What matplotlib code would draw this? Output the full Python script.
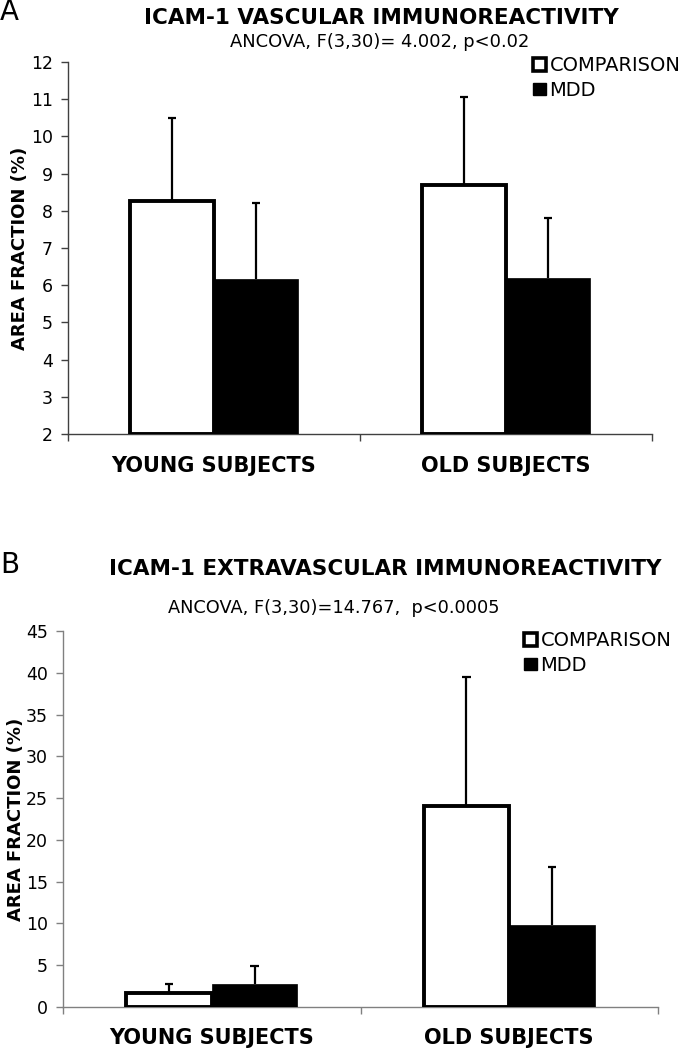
import matplotlib.pyplot as plt
from matplotlib.patches import Patch

plt.rcParams["font.family"] = ["DejaVu Sans"]

W, H = 681, 1049

groups = ["YOUNG SUBJECTS", "OLD SUBJECTS"]
series = ["COMPARISON", "MDD"]

# panel A: vascular
vasc_comp = [8.25, 8.7]
vasc_comp_sd = [2.25, 2.35]
vasc_mdd = [6.17, 6.2]
vasc_mdd_sd = [2.03, 1.6]
vasc_ticks = [2, 3, 4, 5, 6, 7, 8, 9, 10, 11, 12]

# panel B: extravascular
extra_comp = [1.65, 24.0]
extra_comp_sd = [1.1, 15.5]
extra_mdd = [2.75, 9.8]
extra_mdd_sd = [2.2, 7.0]
extra_ticks = [0, 5, 10, 15, 20, 25, 30, 35, 40, 45]


def px_axes(fig, left, top, right, bottom):
    return fig.add_axes([left / W, 1 - bottom / H, (right - left) / W, (bottom - top) / H])


def upper_err(ax, xs, means, sds, cap=0.014):
    tops = [m + s for m, s in zip(means, sds)]
    ax.vlines(xs, means, tops, color="black", linewidth=1.6, zorder=2)
    ax.hlines(tops, [v - cap for v in xs], [v + cap for v in xs], color="black",
              linewidth=1.6, zorder=2)


def panel(ax, comp, comp_sd, mdd, mdd_sd, ticks, spine_color, cat_pad):
    x = [0.5, 1.5]
    bw = 0.288
    off = 0.144
    xc = [v - off for v in x]
    xm = [v + off for v in x]
    base = ticks[0]
    ax.bar(xc, [c - base for c in comp], bw, bottom=base, color="white",
           edgecolor="black", linewidth=2.8, zorder=3)
    ax.bar(xm, [m - base for m in mdd], bw, bottom=base, color="black",
           edgecolor="black", linewidth=0.5, zorder=3)
    upper_err(ax, xc, comp, comp_sd)
    upper_err(ax, xm, mdd, mdd_sd)

    ax.set_xlim(0, 2)
    ax.set_ylim(ticks[0], ticks[-1])
    ax.set_yticks(ticks)
    ax.set_yticklabels([str(t) for t in ticks], fontsize=12.5)
    ax.set_xticks([0, 1, 2])
    ax.set_xticklabels([])
    ax.set_xticks(x, minor=True)
    ax.set_xticklabels(groups, minor=True, fontsize=15, fontweight="bold")
    ax.tick_params(axis="x", which="minor", length=0, pad=cat_pad)
    ax.tick_params(axis="x", which="major", length=5, color=spine_color, width=1)
    ax.tick_params(axis="y", length=5, color=spine_color, width=1, pad=6)
    for s in ["top", "right"]:
        ax.spines[s].set_visible(False)
    for s in ["left", "bottom"]:
        ax.spines[s].set_color(spine_color)
        ax.spines[s].set_linewidth(1)
    ax.set_ylabel("AREA FRACTION (%)", fontsize=13, fontweight="bold")


def legend(fig, x, y):
    handles = [Patch(facecolor="white", edgecolor="black", linewidth=2.6, label=series[0]),
               Patch(facecolor="black", edgecolor="black", label=series[1])]
    fig.legend(handles=handles, loc="upper left", bbox_to_anchor=(x / W, 1 - y / H),
               frameon=False, fontsize=14, handlelength=0.65, handleheight=0.65,
               handletextpad=0.2, labelspacing=0.3, borderpad=0, borderaxespad=0)


fig = plt.figure(figsize=(W / 100, H / 100), dpi=100)

axA = px_axes(fig, 68, 62, 652, 434)
panel(axA, vasc_comp, vasc_comp_sd, vasc_mdd, vasc_mdd_sd, vasc_ticks, "#404040", 16)
axA.yaxis.set_label_coords((29 - 68) / 584, 0.5)
fig.text(0 / W, 1 - 12 / H, "A", fontsize=20, va="center", ha="left")
fig.text(381 / W, 1 - 18 / H, "ICAM-1 VASCULAR IMMUNOREACTIVITY", fontsize=15.5,
         fontweight="bold", ha="center", va="center")
fig.text(380 / W, 1 - 42 / H, "ANCOVA, F(3,30)= 4.002, p<0.02", fontsize=12.9,
         ha="center", va="center")
legend(fig, 533, 56)

axB = px_axes(fig, 63, 631, 658, 1007)
panel(axB, extra_comp, extra_comp_sd, extra_mdd, extra_mdd_sd, extra_ticks, "#808080", 15)
axB.yaxis.set_label_coords((25 - 63) / 595, 0.5)
fig.text(0 / W, 1 - 565 / H, "B", fontsize=20, va="center", ha="left")
fig.text(385 / W, 1 - 569 / H, "ICAM-1 EXTRAVASCULAR IMMUNOREACTIVITY", fontsize=15.5,
         fontweight="bold", ha="center", va="center")
fig.text(334 / W, 1 - 608 / H, "ANCOVA, F(3,30)=14.767,  p<0.0005", fontsize=12.8,
         ha="center", va="center")
legend(fig, 524, 631)

fig.savefig("out.png", dpi=100)
